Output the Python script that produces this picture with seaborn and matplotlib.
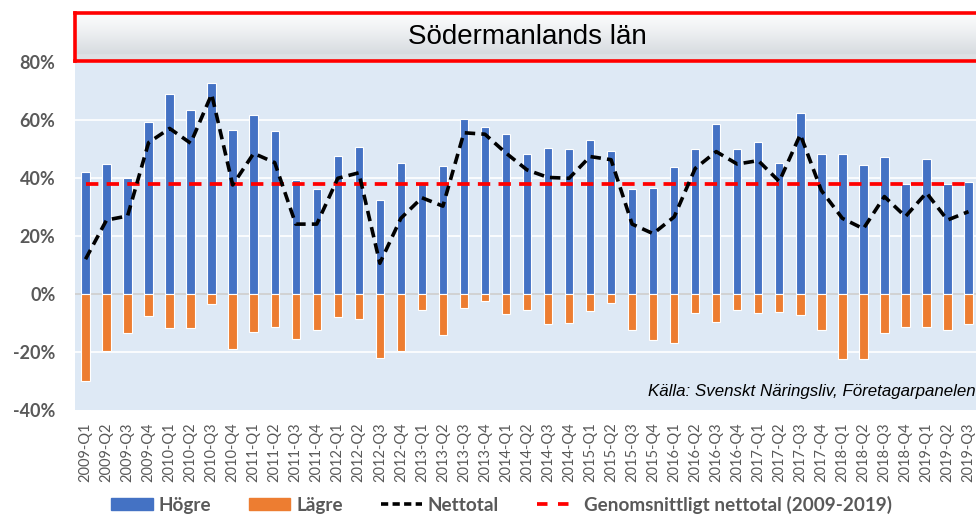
import numpy as np
import pandas as pd
import matplotlib
matplotlib.use("Agg")
import matplotlib.pyplot as plt
import seaborn as sns
from matplotlib.ticker import FuncFormatter
from matplotlib.lines import Line2D
from matplotlib.patches import Patch

# Kvartal 2009-Q1 .. 2019-Q3
kvartal = [f"{y}-Q{q}" for y in range(2009, 2020) for q in range(1, 5)][:43]

# Andel företag (%) som svarat högre / lägre
hogre = [42.0, 44.8, 39.9, 59.3, 68.9, 63.4, 72.9, 56.6, 61.8, 56.3,
         39.3, 36.3, 47.7, 50.7, 32.3, 45.1, 38.7, 44.2, 60.4, 57.6,
         55.2, 48.4, 50.5, 49.9, 53.2, 49.3, 36.3, 36.6, 43.9, 49.9,
         58.7, 49.9, 52.4, 45.3, 62.4, 48.2, 48.4, 44.6, 47.1, 38.0,
         46.6, 38.0, 38.6]
lagre = [-29.9, -19.7, -13.3, -7.5, -11.8, -11.6, -3.6, -19.0, -13.1, -11.3,
         -15.5, -12.4, -8.0, -8.7, -22.0, -19.7, -5.4, -14.1, -4.9, -2.5,
         -7.0, -5.6, -10.2, -10.0, -6.0, -3.2, -12.3, -15.9, -16.8, -6.7,
         -9.7, -5.4, -6.4, -6.3, -7.1, -12.3, -22.3, -22.3, -13.4, -11.5,
         -11.5, -12.5, -10.3]
nettotal = [12.0, 25.5, 26.9, 52.2, 57.1, 52.0, 68.9, 37.6, 48.5, 45.3,
            24.1, 24.1, 39.9, 41.8, 10.6, 26.1, 33.2, 30.3, 55.6, 55.1,
            48.6, 42.8, 40.2, 39.9, 47.4, 46.3, 24.1, 20.8, 26.6, 43.3,
            49.1, 44.8, 46.0, 38.8, 55.0, 35.7, 26.1, 22.5, 33.6, 26.7,
            34.9, 25.5, 28.4]
snitt = 38.0

BLUE = "#4472C4"
ORANGE = "#ED7D31"
GREY = "#595959"
BG = "#DEE9F5"

sns.set_theme(style="white")
plt.rcParams["font.family"] = ["Lato", "DejaVu Sans"]

fig = plt.figure(figsize=(9.76, 5.17), dpi=100)
ax = fig.add_axes([75 / 976, 1 - 410 / 517, 904 / 976, 348 / 517])
ax.set_facecolor(BG)

df = pd.DataFrame({"kvartal": kvartal, "hogre": hogre, "lagre": lagre})
sns.barplot(data=df, x="kvartal", y="hogre", color=BLUE, saturation=1,
            width=0.40, edgecolor="white", linewidth=0.8, ax=ax, zorder=3)
sns.barplot(data=df, x="kvartal", y="lagre", color=ORANGE, saturation=1,
            width=0.40, edgecolor="white", linewidth=0.8, ax=ax, zorder=3)

x = np.arange(len(kvartal))
ax.plot(x, [snitt] * len(x), color="#FF0000", lw=2.7, dashes=(3.3, 2.2), zorder=4)
ax.plot(x, nettotal, color="black", lw=2.6, dashes=(2.9, 1.7), zorder=5)

# rutnät
for v in [-20, 20, 40, 60, 80]:
    ax.axhline(v, color="white", lw=1.2, zorder=1)
ax.axhline(0, color="#D0D0D0", lw=1.3, zorder=2)

ax.set_xlim(-0.5, len(kvartal) - 0.5)
ax.set_ylim(-40, 80)
ax.set_yticks([-40, -20, 0, 20, 40, 60, 80])
ax.yaxis.set_major_formatter(FuncFormatter(lambda v, p: f"{v:.0f}%"))
ax.set_xticks(x)
ax.set_xticklabels(kvartal, rotation=90, fontsize=10.5, color=GREY)
for t in ax.get_yticklabels():
    t.set_fontweight("bold")
ax.tick_params(axis="y", length=0, pad=14, labelsize=13, labelcolor=GREY)
ax.tick_params(axis="x", length=0, pad=9)
ax.set_xlabel("")
ax.set_ylabel("")
for s in ax.spines.values():
    s.set_visible(False)

ax.text(0.996, 0.053, "Källa: Svenskt Näringsliv, Företagarpanelen",
        transform=ax.transAxes, ha="right", va="center", fontsize=12.2,
        style="italic", family="Liberation Sans", color="black")

# rubrikruta med gradient
tax = fig.add_axes([75 / 976, 1 - 60.5 / 517, 904 / 976, 47.5 / 517])
grad = np.linspace(0, 1, 100)
top = np.array([0.985, 0.988, 0.99])
bot = np.array([0.845, 0.862, 0.88])
cols = top[None, :] + (bot - top)[None, :] * np.clip(grad / 0.85, 0, 1)[:, None] ** 1.3
cols[grad > 0.88] = [0.87, 0.885, 0.9]
tax.imshow(cols[:, None, :], aspect="auto", extent=[0, 1, 0, 1], origin="upper")
tax.set_xlim(0, 1)
tax.set_ylim(0, 1)
tax.set_xticks([])
tax.set_yticks([])
for s in tax.spines.values():
    s.set_color("#FF0000")
    s.set_linewidth(2.6)
tax.text(0.5, 0.5, "Södermanlands län", ha="center", va="center",
         fontsize=20, family="Liberation Sans", color="black")

handles = [
    Patch(color=BLUE, label="Högre"),
    Patch(color=ORANGE, label="Lägre"),
    Line2D([0], [0], color="black", lw=2.6, dashes=(2.0, 1.2), label="Nettotal"),
    Line2D([0], [0], color="#FF0000", lw=2.7, dashes=(2.8, 2.8),
           label="Genomsnittligt nettotal (2009-2019)"),
]
leg = fig.legend(handles=handles, loc="center", bbox_to_anchor=(0.514, 0.024),
                 ncol=4, frameon=False, handlelength=2.2, handleheight=0.65,
                 columnspacing=2.0, handletextpad=0.3,
                 prop={"weight": "bold", "size": 13.6})
for t in leg.get_texts():
    t.set_color(GREY)

fig.savefig("out.png", dpi=100)
